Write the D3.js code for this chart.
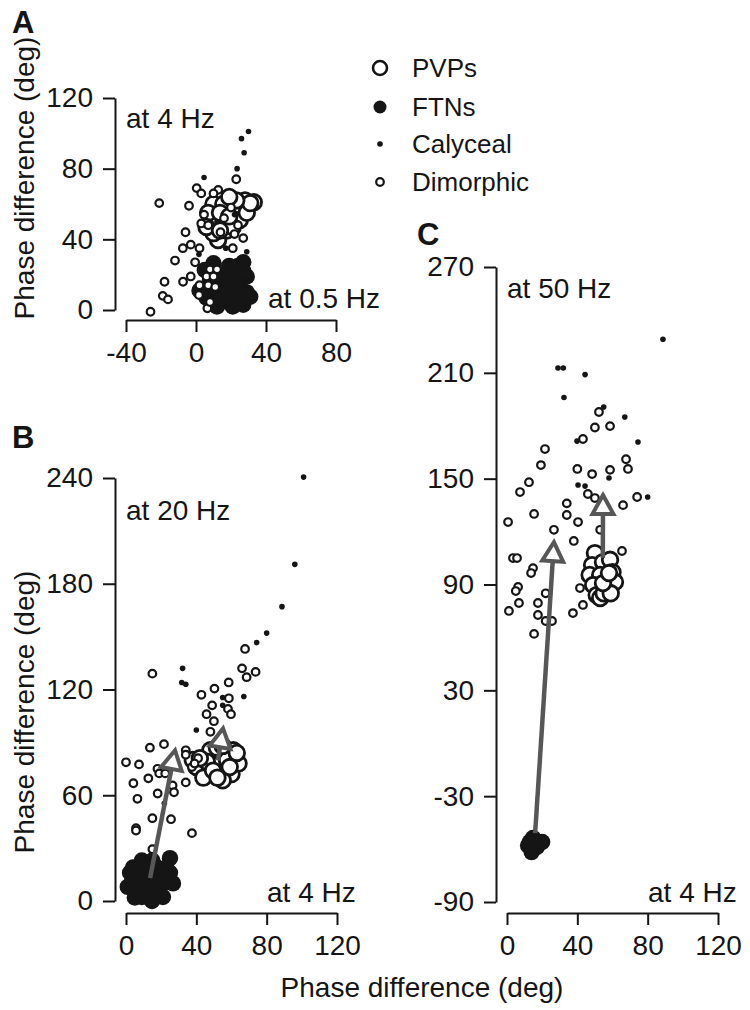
<!DOCTYPE html>
<html><head><meta charset="utf-8">
<script src="https://cdn.jsdelivr.net/npm/d3@7"></script>
<style>
body{margin:0;background:#fff}
text{font-family:"Liberation Sans",Arial,Helvetica,sans-serif;fill:#151515}
</style>
</head><body>
<svg id="chart" width="750" height="1010"></svg>
<script>
// ---------- DATA (phase differences, deg) ----------
const seriesNames = ["PVPs", "FTNs", "Calyceal", "Dimorphic"];

const A_xTicks = [-40, 0, 40, 80];
const A_yTicks = [0, 40, 80, 120];
const B_xTicks = [0, 40, 80, 120];
const B_yTicks = [0, 60, 120, 180, 240];
const C_xTicks = [0, 40, 80, 120];
const C_yTicks = [-90, -30, 30, 90, 150, 210, 270];

// Panel A: x = at 0.5 Hz, y = at 4 Hz
const A_FTNs = [[10,26.5],[27,27],[10,5.7],[27,3],[31,7.5],[29,19],[21,2],[17.5,21],[2,11],[5,22.6],[18,12],[24,25],[14,14],[20,9],[22,15],[15,5],[13,18],[29,10],[6,7],[19,25],[27,22],[10,13],[24,4],[16,9],[25,13],[8,17],[21,19],[12,2]];
const A_PVPs = [[10,60],[28,62],[33,61],[12.6,39.6],[21,58],[10,50],[25,51],[17.5,45],[7,55],[15.6,60],[21,47],[29,55],[13.7,55],[19,53],[10,43.5],[6,47],[31,60.5],[23,62],[19,64],[13.7,45]];
const A_Calyceal = [[30,101],[26,97],[27.5,89],[23.5,80],[4.6,75],[3.5,55],[29,33],[17,35],[1.7,31.5],[12,50],[22,54]];
const A_Dimorphic = [[-21,60.5],[-4,59],[0.4,69],[3,66],[23,74],[12.7,68],[10,66],[-6,44],[-3,37],[-7.5,35],[2,35],[-12,28],[-0.5,27],[-18,16],[-7.4,16],[-3,19],[-19,8],[-16,6],[-26,-1],[1.7,8.5],[6.5,1],[8,4.5],[2,14],[21,35],[27,40.7],[3,49],[4.6,54],[7,48],[8,23],[12,23],[6,19],[10,19],[7,14],[11,13],[16,52],[20,58],[24,48],[14,44],[22,43]];

// Panel B: x = at 4 Hz, y = at 20 Hz
const B_FTNs = [[25,24.3],[9,23],[2.3,16],[1,8],[5,2],[14.8,0],[21,2.3],[26.7,10],[25,16],[17.6,19],[12,16],[9.7,8],[17.6,8],[13.7,12],[6,12],[21,10],[19,4.5],[9,2.3],[4,19],[15,23],[23,19],[11,5],[16,14],[3,10],[20,14],[7,6],[13,20]];
const B_PVPs = [[40,76],[48,85.5],[61,85.5],[60,72],[48,72],[55,68.5],[44,70],[64,78],[53.5,78],[46,79],[57.5,80],[38,80],[51.7,87],[63,84],[49.5,74],[59,76],[42,81],[55,88],[52,70]];
const B_Calyceal = [[101,240.5],[96,191],[88.7,167],[80,152],[74.3,146.6],[32.2,132],[31.7,124],[34,123],[67,116],[55,115.5],[55,111],[40,97],[21.8,55.5]];
const B_Dimorphic = [[15,129],[67.7,143],[66,132],[68.6,127],[73.7,130],[58.4,124],[50.3,120.5],[42.9,117],[58.5,115],[49,111],[45.8,106],[58,109],[59.7,106],[50,102],[48,96],[0,78.7],[7.4,77.5],[13.6,87],[21.6,89],[4.2,66.8],[12.7,69.6],[6.5,58],[18,61],[17.9,75],[18.9,72.4],[22.3,72.4],[26.5,65.6],[27.3,61.7],[15,47],[25.6,46.4],[5.7,41.3],[5.7,40],[37.5,38.5],[34,67.3],[34,85.5],[34,83],[37.5,76],[41,81],[39,78],[15,29.4]];
const B_arrows = [[13.7,13,27.9,85.5],[52.3,79.8,55.2,97.9]];

// Panel C: x = at 4 Hz, y = at 50 Hz
const C_FTNs = [[12,-58],[14,-61.7],[16,-55],[20,-56],[17,-58.8],[14.8,-53.7],[13,-56]];
const C_PVPs = [[50,107.8],[48.4,101],[54.6,102.7],[58.6,104],[47,95.4],[53,95.4],[60,97],[49,89.7],[55.7,89.7],[61.4,91.4],[51,84],[57.4,85.7],[53,82.3],[55,85],[59,85],[54.6,90.8],[58,96.5]];
const C_Calyceal = [[88.7,229],[29,212.7],[32,212.7],[44.4,209],[32.4,196],[55,190.6],[67,185],[74.5,170.8],[39.8,171.3],[40.4,146.4],[44.4,145.8],[58,150.4],[80,139.6]];
const C_Dimorphic = [[52.3,187.8],[50,179],[58.6,179.8],[43.2,172.5],[21.6,166.8],[19.3,157.7],[12.5,148],[7.4,142.4],[15.4,130],[0.6,125.4],[34,136],[34,129.4],[40,155.5],[48.4,152.6],[58.6,155],[68.8,155.5],[67.7,161],[46,141.3],[50,139],[66,135],[74,139.6],[40.4,125.4],[26.7,121],[38,114.7],[53,121],[65.4,109],[3.4,105],[5.7,105],[14.8,99.3],[13.7,96.5],[6.3,88.6],[5,86.3],[6.8,79.5],[1.1,75],[17.6,79.5],[17.6,72.7],[22,85],[22,69.3],[25.6,69.3],[15.4,62],[37.5,73.8],[43.2,78.4],[41.5,88]];
const C_arrows = [[16,-51,26.7,114],[54.5,105,54.6,140.7]];

// ---------- DRAWING ----------
const svg = d3.select("#chart");
const INK = "#151515", ARROW = "#575757";
const FS = 28;

const styles = {
  FTNs:      {r: 8.2, fill: INK,    stroke: "none", sw: 0},
  PVPs:      {r: 7.8, fill: "#fff", stroke: INK,    sw: 2.8},
  Calyceal:  {r: 2.8, fill: INK,    stroke: "none", sw: 0},
  Dimorphic: {r: 3.8, fill: "#fff", stroke: INK,    sw: 2.2}
};
const fmt = d => String(d);

function drawPanel(p) {
  const x = d3.scaleLinear().domain(p.xDomain).range(p.xRange);
  const y = d3.scaleLinear().domain(p.yDomain).range(p.yRange);
  const g = svg.append("g");

  const yAx = g.append("g").attr("transform", `translate(${p.yAxisX},0)`)
    .call(d3.axisLeft(y).tickValues(p.yTicks).tickSize(12).tickSizeOuter(0).tickPadding(10).tickFormat(fmt));
  const xAx = g.append("g").attr("transform", `translate(0,${p.xAxisY})`)
    .call(d3.axisBottom(x).tickValues(p.xTicks).tickSize(12).tickSizeOuter(0).tickPadding(8).tickFormat(fmt));
  [yAx, xAx].forEach(a => {
    a.selectAll("path,line").attr("stroke", INK).attr("stroke-width", 2);
    a.selectAll("text").attr("font-size", FS).attr("fill", INK)
      .attr("font-family", '"Liberation Sans",Arial,sans-serif');
  });
  xAx.selectAll("text").attr("dy", "0.78em");

  const order = ["FTNs", "PVPs", "Calyceal", "Dimorphic"];
  order.forEach(name => {
    const s = styles[name];
    g.append("g").selectAll("circle").data(p.series[name]).join("circle")
      .attr("cx", d => x(d[0])).attr("cy", d => y(d[1])).attr("r", s.r)
      .attr("fill", s.fill).attr("stroke", s.stroke).attr("stroke-width", s.sw);
  });

  (p.arrows || []).forEach(a => {
    const x0 = x(a[0]), y0 = y(a[1]), x1 = x(a[2]), y1 = y(a[3]);
    const len = Math.hypot(x1 - x0, y1 - y0), ux = (x1 - x0) / len, uy = (y1 - y0) / len;
    const h = 19, hw = 10.5;
    const bx = x1 - ux * h, by = y1 - uy * h;
    g.append("line").attr("x1", x0).attr("y1", y0).attr("x2", bx).attr("y2", by)
      .attr("stroke", ARROW).attr("stroke-width", 4.5);
    const pts = [[x1, y1], [bx - uy * hw, by + ux * hw], [bx + uy * hw, by - ux * hw]];
    g.append("path").attr("d", "M" + pts.map(q => q.join(",")).join("L") + "Z")
      .attr("fill", "#fff").attr("stroke", ARROW).attr("stroke-width", 4)
      .attr("stroke-linejoin", "miter");
  });

  p.notes.forEach(n => {
    g.append("text").attr("x", n[1]).attr("y", n[2]).attr("font-size", FS).text(n[0]);
  });
  if (p.yTitle) {
    g.append("text").attr("transform", `translate(${p.yTitle[0]},${p.yTitle[1]}) rotate(-90)`)
      .attr("text-anchor", "middle").attr("font-size", FS).text("Phase difference (deg)");
  }
  g.append("text").attr("x", p.letter[1]).attr("y", p.letter[2]).attr("font-size", 31)
    .attr("font-weight", "bold").text(p.letter[0]);
}

drawPanel({
  xDomain: [-40, 80], xRange: [126, 336], yDomain: [0, 120], yRange: [310, 98],
  yAxisX: 115, xAxisY: 320, xTicks: A_xTicks, yTicks: A_yTicks,
  series: {FTNs: A_FTNs, PVPs: A_PVPs, Calyceal: A_Calyceal, Dimorphic: A_Dimorphic},
  notes: [["at 4 Hz", 126, 128], ["at 0.5 Hz", 268, 308]],
  yTitle: [34, 178], letter: ["A", 12, 33]
});
drawPanel({
  xDomain: [0, 120], xRange: [126, 337], yDomain: [0, 240], yRange: [901, 478],
  yAxisX: 115, xAxisY: 913, xTicks: B_xTicks, yTicks: B_yTicks,
  series: {FTNs: B_FTNs, PVPs: B_PVPs, Calyceal: B_Calyceal, Dimorphic: B_Dimorphic},
  arrows: B_arrows,
  notes: [["at 20 Hz", 126, 520], ["at 4 Hz", 267, 902]],
  yTitle: [34, 712], letter: ["B", 12, 448]
});
drawPanel({
  xDomain: [0, 120], xRange: [507, 718], yDomain: [-90, 270], yRange: [902, 267],
  yAxisX: 496, xAxisY: 913, xTicks: C_xTicks, yTicks: C_yTicks,
  series: {FTNs: C_FTNs, PVPs: C_PVPs, Calyceal: C_Calyceal, Dimorphic: C_Dimorphic},
  arrows: C_arrows,
  notes: [["at 50 Hz", 507, 298], ["at 4 Hz", 648, 902]],
  yTitle: null, letter: ["C", 417, 245]
});

// shared x-axis title
svg.append("text").attr("x", 422).attr("y", 997).attr("text-anchor", "middle")
  .attr("font-size", FS).text("Phase difference (deg)");

// legend
const legY = [68, 107, 144, 182];
const lg = svg.append("g");
seriesNames.forEach((name, i) => {
  const s = styles[name];
  lg.append("circle").attr("cx", 380).attr("cy", legY[i])
    .attr("r", name === "FTNs" ? 6.5 : name === "PVPs" ? 7 : s.r)
    .attr("fill", s.fill).attr("stroke", s.stroke).attr("stroke-width", name === "PVPs" ? 2.6 : s.sw);
  lg.append("text").attr("x", 412).attr("y", legY[i]).attr("dy", "0.36em")
    .attr("font-size", 26).text(name);
});
</script>
</body></html>
